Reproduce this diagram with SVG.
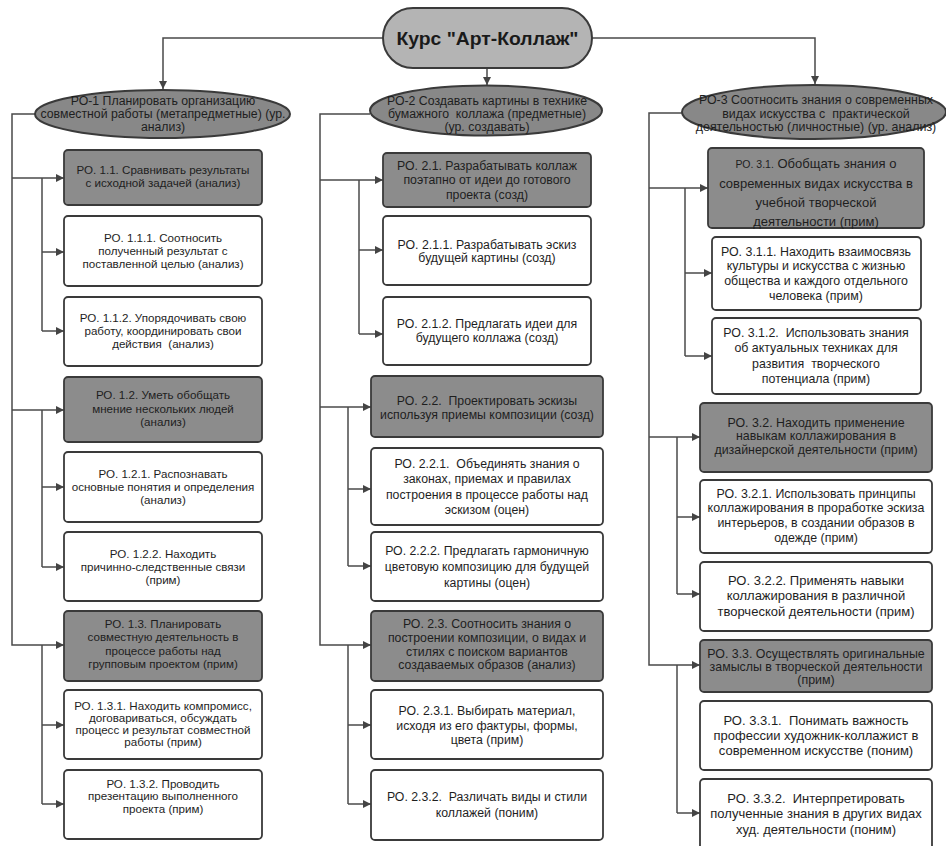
<svg xmlns="http://www.w3.org/2000/svg" width="946" height="846" viewBox="0 0 946 846">
<defs>
<marker id="ah" viewBox="0 0 10 10" refX="10" refY="5" markerWidth="8" markerHeight="8" markerUnits="userSpaceOnUse" orient="auto">
<path d="M0,0 L10,5 L0,10 z" fill="#444"/>
</marker>
<style>
.bg{fill:#ffffff}
.dk{fill:#8c8c8c;stroke:#3a3a3a;stroke-width:1.8}
.wt{fill:#ffffff;stroke:#3a3a3a;stroke-width:1.8}
.tl{fill:#b4b4b4;stroke:#3a3a3a;stroke-width:2}
.el{fill:#888888;stroke:#3a3a3a;stroke-width:2}
.c{fill:none;stroke:#4a4a4a;stroke-width:1.5}
.a{fill:none;stroke:#4a4a4a;stroke-width:1.5;marker-end:url(#ah)}
text{font-family:"Liberation Sans",Arial,sans-serif;fill:#1e1e1e;text-anchor:middle;white-space:pre}
.f1{font-size:11.6px}
.f2{font-size:12.3px}
.f3{font-size:12.4px}
.f4{font-size:13px}
.ti{font-size:19px;font-weight:bold;fill:#1a1a1a}
</style>
</defs>
<rect class="bg" x="0" y="0" width="946" height="846"/>

<g id="connectors">
<path class="a" d="M383,38 H163 V89"/>
<path class="a" d="M592,38 H815 V84"/>
<path class="a" d="M487,68 V85"/>
<path class="a" d="M35,114 H12 V645 H64"/>
<path class="a" d="M12,178 H64"/>
<path class="a" d="M12,410 H64"/>
<path class="c" d="M42,178 V331"/>
<path class="a" d="M42,252 H64"/>
<path class="a" d="M42,331 H64"/>
<path class="c" d="M42,410 V567"/>
<path class="a" d="M42,487 H64"/>
<path class="a" d="M42,567 H64"/>
<path class="c" d="M42,645 V804"/>
<path class="a" d="M42,725 H64"/>
<path class="a" d="M42,804 H64"/>
<path class="a" d="M370,114 H320 V645 H371"/>
<path class="a" d="M320,180 H383"/>
<path class="a" d="M320,407 H371"/>
<path class="c" d="M359,180 V334"/>
<path class="a" d="M359,250 H383"/>
<path class="a" d="M359,334 H383"/>
<path class="c" d="M348,407 V566"/>
<path class="a" d="M348,489 H371"/>
<path class="a" d="M348,566 H371"/>
<path class="c" d="M348,645 V804"/>
<path class="a" d="M348,725 H371"/>
<path class="a" d="M348,804 H371"/>
<path class="a" d="M683,113 H649 V665 H700"/>
<path class="a" d="M649,188 H708"/>
<path class="a" d="M649,437 H700"/>
<path class="c" d="M685,188 V356"/>
<path class="a" d="M685,273 H712"/>
<path class="a" d="M685,356 H712"/>
<path class="c" d="M677,437 V594"/>
<path class="a" d="M677,517 H700"/>
<path class="a" d="M677,594 H700"/>
<path class="c" d="M677,665 V813"/>
<path class="a" d="M677,813 H700"/>
</g>

<g id="title">
<rect class="tl" x="383" y="8" width="209" height="60" rx="30"/>
<text class="ti" x="487.5" y="45" textLength="182" lengthAdjust="spacingAndGlyphs">Курс "Арт-Коллаж"</text>
</g>

<g id="ro1">
<ellipse class="el" cx="162.5" cy="114" rx="127.5" ry="24"/>
<text class="f2"><tspan x="163" y="104.5">РО-1 Планировать организацию</tspan><tspan x="163" y="117.5">совместной работы (метапредметные) (ур.</tspan><tspan x="163" y="130.5">анализ)</tspan></text>
</g>
<g id="ro11">
<rect class="dk" x="64" y="150" width="198" height="55" rx="4"/>
<text class="f1"><tspan x="163" y="174">РО. 1.1. Сравнивать результаты</tspan><tspan x="163" y="187">с исходной задачей (анализ)</tspan></text>
</g>
<g id="ro111">
<rect class="wt" x="64" y="216" width="198" height="70" rx="4"/>
<text class="f1"><tspan x="163" y="242">РО. 1.1.1. Соотносить</tspan><tspan x="163" y="255">полученный результат с</tspan><tspan x="163" y="268">поставленной целью (анализ)</tspan></text>
</g>
<g id="ro112">
<rect class="wt" x="64" y="297" width="198" height="69" rx="4"/>
<text class="f1"><tspan x="163" y="322">РО. 1.1.2. Упорядочивать свою</tspan><tspan x="163" y="335">работу, координировать свои</tspan><tspan x="163" y="348">действия  (анализ)</tspan></text>
</g>
<g id="ro12">
<rect class="dk" x="64" y="377" width="198" height="65" rx="4"/>
<text class="f1"><tspan x="163" y="399">РО. 1.2. Уметь обобщать</tspan><tspan x="163" y="412.5">мнение нескольких людей</tspan><tspan x="163" y="426">(анализ)</tspan></text>
</g>
<g id="ro121">
<rect class="wt" x="64" y="452" width="198" height="70" rx="4"/>
<text class="f1"><tspan x="163" y="477.5">РО. 1.2.1. Распознавать</tspan><tspan x="163" y="491">основные понятия и определения</tspan><tspan x="163" y="504">(анализ)</tspan></text>
</g>
<g id="ro122">
<rect class="wt" x="64" y="532" width="198" height="69" rx="4"/>
<text class="f1"><tspan x="163" y="557.5">РО. 1.2.2. Находить</tspan><tspan x="163" y="571">причинно-следственные связи</tspan><tspan x="163" y="583.5">(прим)</tspan></text>
</g>
<g id="ro13">
<rect class="dk" x="64" y="611" width="198" height="70" rx="4"/>
<text class="f1"><tspan x="163" y="627.5">РО. 1.3. Планировать</tspan><tspan x="163" y="641">совместную деятельность в</tspan><tspan x="163" y="654.5">процессе работы над</tspan><tspan x="163" y="668">групповым проектом (прим)</tspan></text>
</g>
<g id="ro131">
<rect class="wt" x="64" y="690" width="198" height="69" rx="4"/>
<text class="f1"><tspan x="163" y="709.5">РО. 1.3.1. Находить компромисс,</tspan><tspan x="163" y="721.5">договариваться, обсуждать</tspan><tspan x="163" y="733.5">процесс и результат совместной</tspan><tspan x="163" y="746">работы (прим)</tspan></text>
</g>
<g id="ro132">
<rect class="wt" x="64" y="770" width="198" height="69" rx="4"/>
<text class="f1"><tspan x="163" y="788">РО. 1.3.2. Проводить</tspan><tspan x="163" y="800">презентацию выполненного</tspan><tspan x="163" y="812.5">проекта (прим)</tspan></text>
</g>

<g id="ro2">
<ellipse class="el" cx="486" cy="110.5" rx="116" ry="25"/>
<text class="f2"><tspan x="487" y="104.5">РО-2 Создавать картины в технике</tspan><tspan x="487" y="117.5">бумажного  коллажа (предметные)</tspan><tspan x="487" y="131">(ур. создавать)</tspan></text>
</g>
<g id="ro21">
<rect class="dk" x="383" y="153" width="208" height="54" rx="4"/>
<text class="f2"><tspan x="487" y="169.5">РО. 2.1. Разрабатывать коллаж</tspan><tspan x="487" y="184">поэтапно от идеи до готового</tspan><tspan x="487" y="198.5">проекта (созд)</tspan></text>
</g>
<g id="ro211">
<rect class="wt" x="383" y="216" width="208" height="69" rx="4"/>
<text class="f2"><tspan x="487" y="248.5">РО. 2.1.1. Разрабатывать эскиз</tspan><tspan x="487" y="262">будущей картины (созд)</tspan></text>
</g>
<g id="ro212">
<rect class="wt" x="383" y="297" width="208" height="68" rx="4"/>
<text class="f2"><tspan x="487" y="327.5">РО. 2.1.2. Предлагать идеи для</tspan><tspan x="487" y="341.5">будущего коллажа (созд)</tspan></text>
</g>
<g id="ro22">
<rect class="dk" x="371" y="376" width="232" height="61" rx="4"/>
<text class="f2"><tspan x="487" y="404.5">РО. 2.2.  Проектировать эскизы</tspan><tspan x="487" y="418.5">используя приемы композиции (созд)</tspan></text>
</g>
<g id="ro221">
<rect class="wt" x="371" y="448" width="232" height="77" rx="4"/>
<text class="f2"><tspan x="487" y="467.5">РО. 2.2.1.  Объединять знания о</tspan><tspan x="487" y="483">законах, приемах и правилах</tspan><tspan x="487" y="498.5">построения в процессе работы над</tspan><tspan x="487" y="514">эскизом (оцен)</tspan></text>
</g>
<g id="ro222">
<rect class="wt" x="371" y="532" width="232" height="69" rx="4"/>
<text class="f2"><tspan x="487" y="554.5">РО. 2.2.2. Предлагать гармоничную</tspan><tspan x="487" y="570.5">цветовую композицию для будущей</tspan><tspan x="487" y="586.5">картины (оцен)</tspan></text>
</g>
<g id="ro23">
<rect class="dk" x="371" y="611" width="232" height="70" rx="4"/>
<text class="f2"><tspan x="487" y="627.5">РО. 2.3. Соотносить знания о</tspan><tspan x="487" y="641.5">построении композиции, о видах и</tspan><tspan x="487" y="655.5">стилях с поиском вариантов</tspan><tspan x="487" y="668.5">создаваемых образов (анализ)</tspan></text>
</g>
<g id="ro231">
<rect class="wt" x="371" y="690" width="232" height="69" rx="4"/>
<text class="f2"><tspan x="487" y="714.5">РО. 2.3.1. Выбирать материал,</tspan><tspan x="487" y="729.5">исходя из его фактуры, формы,</tspan><tspan x="487" y="743.5">цвета (прим)</tspan></text>
</g>
<g id="ro232">
<rect class="wt" x="371" y="770" width="232" height="70" rx="4"/>
<text class="f2"><tspan x="487" y="800.5">РО. 2.3.2.  Различать виды и стили</tspan><tspan x="487" y="816.5">коллажей (поним)</tspan></text>
</g>

<g id="ro3">
<ellipse class="el" cx="814" cy="112" rx="132" ry="27"/>
<text class="f3"><tspan x="816" y="103.5">РО-3 Соотносить знания о современных</tspan><tspan x="816" y="117.5">видах искусства с  практической</tspan><tspan x="816" y="130.5">деятельностью (личностные) (ур. анализ)</tspan></text>
</g>
<g id="ro31">
<rect class="dk" x="708" y="148" width="216" height="80" rx="4"/>
<text class="f4"><tspan x="816" y="167.5"><tspan style="font-size:10.5px">РО. 3.1.</tspan> Обобщать знания о</tspan><tspan x="816" y="187.5">современных видах искусства в</tspan><tspan x="816" y="206.5">учебной творческой</tspan><tspan x="816" y="226">деятельности (прим)</tspan></text>
</g>
<g id="ro311">
<rect class="wt" x="712" y="237" width="209" height="73" rx="4"/>
<text class="f3"><tspan x="816" y="255.5">РО. 3.1.1. Находить взаимосвязь</tspan><tspan x="816" y="269.5">культуры и искусства с жизнью</tspan><tspan x="816" y="284.5">общества и каждого отдельного</tspan><tspan x="816" y="299.5">человека (прим)</tspan></text>
</g>
<g id="ro312">
<rect class="wt" x="712" y="318" width="209" height="76" rx="4"/>
<text class="f3"><tspan x="816" y="336.5">РО. 3.1.2.  Использовать знания</tspan><tspan x="816" y="351.5">об актуальных техниках для</tspan><tspan x="816" y="367.5">развития  творческого</tspan><tspan x="816" y="382.5">потенциала (прим)</tspan></text>
</g>
<g id="ro32">
<rect class="dk" x="700" y="403" width="232" height="69" rx="4"/>
<text class="f3"><tspan x="816" y="426.5">РО. 3.2. Находить применение</tspan><tspan x="816" y="439.5">навыкам коллажирования в</tspan><tspan x="816" y="453.5">дизайнерской деятельности (прим)</tspan></text>
</g>
<g id="ro321">
<rect class="wt" x="700" y="480" width="232" height="73" rx="4"/>
<text class="f3"><tspan x="816" y="497.5">РО. 3.2.1. Использовать принципы</tspan><tspan x="816" y="511.5">коллажирования в проработке эскиза</tspan><tspan x="816" y="526.5">интерьеров, в создании образов в</tspan><tspan x="816" y="541.5">одежде (прим)</tspan></text>
</g>
<g id="ro322">
<rect class="wt" x="700" y="562" width="232" height="69" rx="4"/>
<text class="f4"><tspan x="816" y="584.5">РО. 3.2.2. Применять навыки</tspan><tspan x="816" y="599.5">коллажирования в различной</tspan><tspan x="816" y="615.5">творческой деятельности (прим)</tspan></text>
</g>
<g id="ro33">
<rect class="dk" x="700" y="640" width="232" height="52" rx="4"/>
<text class="f3"><tspan x="816" y="657.5">РО. 3.3. Осуществлять оригинальные</tspan><tspan x="816" y="670.5">замыслы в творческой деятельности</tspan><tspan x="816" y="683.5">(прим)</tspan></text>
</g>
<g id="ro331">
<rect class="wt" x="700" y="701" width="232" height="69" rx="4"/>
<text class="f4"><tspan x="816" y="724.5">РО. 3.3.1.  Понимать важность</tspan><tspan x="816" y="739.5">профессии художник-коллажист в</tspan><tspan x="816" y="754.5">современном искусстве (поним)</tspan></text>
</g>
<g id="ro332">
<rect class="wt" x="700" y="779" width="232" height="72" rx="4"/>
<text class="f4"><tspan x="816" y="802.5">РО. 3.3.2.  Интерпретировать</tspan><tspan x="816" y="817.5">полученные знания в других видах</tspan><tspan x="816" y="833.5">худ. деятельности (поним)</tspan></text>
</g>
</svg>
